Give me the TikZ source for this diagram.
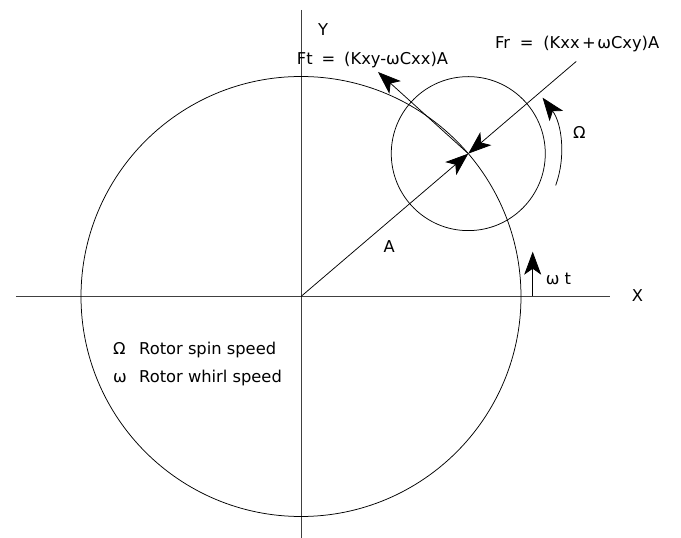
\documentclass[tikz,border=0pt]{standalone}
\usepackage{fontspec}
\setmainfont{DejaVu Sans}
\usetikzlibrary{arrows.meta}
\begin{document}
\begin{tikzpicture}[x=1bp,y=1bp,
  lbl/.style={anchor=base west,inner sep=0pt,font=\fontsize{16.3bp}{18bp}\selectfont},
  axis/.style={black!75,line width=0.6bp},
  curve/.style={black,line width=0.75bp},
  tip/.style={-{Stealth[length=23bp,width=17bp,inset=6bp]}}]
\useasboundingbox (-301,-241.5) rectangle (380,296.5);
% axes
\coordinate (O) at (0,0);
\coordinate (xl) at (-285,0);
\coordinate (xr) at (309,0);
\coordinate (yt) at (0,286.5);
\coordinate (yb) at (0,-241.5);
\draw[axis] (xl) -- (xr);
\draw[axis] (yt) -- (yb);
% big orbit circle
\draw[curve] (O) circle[radius=220];
% rotor centre and small circle
\coordinate (C) at (40.5:220);
\draw[curve] (C) circle[radius=77];
% radial line and forces
\coordinate (E) at (40.5:362);
\coordinate (T) at (77,224.5);
\draw[curve,tip] (O) -- (C);
\draw[curve,tip] (E) -- (C);
\draw[curve,tip] (C) -- (T);
% spin arc
\draw[curve,tip] ([shift={(-20:93)}]C) arc[start angle=-20,end angle=37,radius=93];
% whirl arrow
\coordinate (W0) at (231.7,0);
\coordinate (W1) at (231.7,44.8);
\draw[curve,tip] (W0) -- (W1);
% labels
\node[lbl] (ylab) at (17,260.5) {Y};
\node[lbl] (xlab) at (330.7,-5.2) {X};
\node[lbl] (ft) at (-4.3,231.5) {Ft\hspace{0.55em}=\hspace{0.55em}(Kxy-ωCxx)A};
\node[lbl] (fr) at (194,248.2) {Fr\hspace{0.6em}=\hspace{0.6em}(Kxx\hspace{0.15em}+\hspace{0.1em}ωCxy)A};
\node[lbl] (alab) at (82.3,43.8) {A};
\node[lbl] (om) at (272,158.2) {Ω};
\node[lbl] (wt) at (244.7,11.5) {ω t};
\node[lbl] (l1s) at (-188,-58.5) {Ω};
\node[lbl] (l1t) at (-162,-58.5) {Rotor spin speed};
\node[lbl] (l2s) at (-188,-86.2) {ω};
\node[lbl] (l2t) at (-162,-86.2) {Rotor whirl speed};
\end{tikzpicture}
\end{document}
